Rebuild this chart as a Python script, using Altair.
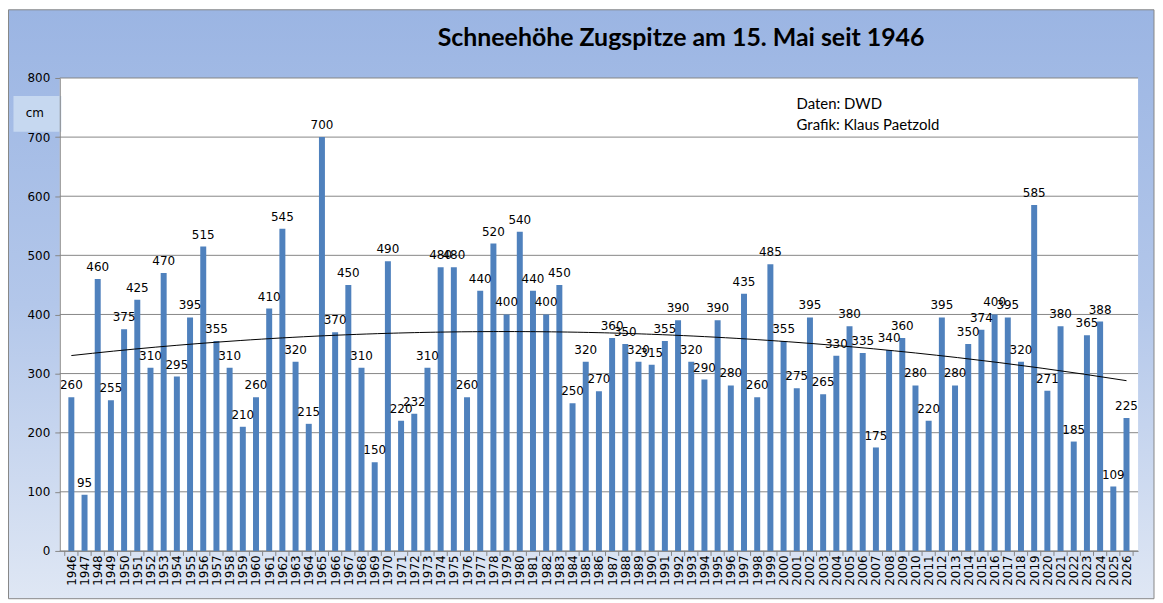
import altair as alt
import pandas as pd

years = list(range(1946, 2027))
values = [260, 95, 460, 255, 375, 425, 310, 470, 295, 395,
          515, 355, 310, 210, 260, 410, 545, 320, 215, 700,
          370, 450, 310, 150, 490, 220, 232, 310, 480, 480,
          260, 440, 520, 400, 540, 440, 400, 450, 250, 320,
          270, 360, 350, 320, 315, 355, 390, 320, 290, 390,
          280, 435, 260, 485, 355, 275, 395, 265, 330, 380,
          335, 175, 340, 360, 280, 220, 395, 280, 350, 374,
          400, 395, 320, 585, 271, 380, 185, 365, 388, 109, 225]
y_ticks = [0, 100, 200, 300, 400, 500, 600, 700, 800]
title_text = "Schneehöhe Zugspitze am 15. Mai seit 1946"
credit_lines = ["Daten: DWD", "Grafik: Klaus Paetzold"]
unit_label = "cm"

df = pd.DataFrame({"year": years, "value": values})
tick_df = pd.DataFrame({"year": years + [2027]})
grid_df = pd.DataFrame({"value": y_ticks})
one = pd.DataFrame({"a": [0]})

W, H = 1083, 475
NUM_FONT = "DejaVu Sans"
GRAY = "#868686"

xscale = alt.Scale(domain=[1945.5, 2026.5], nice=False, zero=False)
yscale = alt.Scale(domain=[0, 800], nice=False)

xaxis = alt.Axis(values=years, format="d", labelAngle=270, ticks=False,
                 grid=False, domainColor=GRAY, labelFont=NUM_FONT,
                 labelFontSize=12, labelColor="black", labelPadding=4,
                 labelAlign="right", labelBaseline="middle", title=None,
                 labelOverlap=False, labelFlush=False, zindex=1)
yaxis = alt.Axis(values=y_ticks, grid=False, domainColor=GRAY, tickColor=GRAY,
                 tickSize=5, labelFont=NUM_FONT, labelFontSize=12,
                 labelColor="black", labelPadding=5, title=None, zindex=1)

X = alt.X("year:Q", scale=xscale, axis=xaxis)
Y = alt.Y("value:Q", scale=yscale, axis=yaxis)

bg = alt.Chart(one).mark_rect(
    fill=alt.LinearGradient(
        gradient="linear",
        stops=[alt.GradientStop(color="#9bb5e3", offset=0),
               alt.GradientStop(color="#b3c7ea", offset=0.5),
               alt.GradientStop(color="#dfe7f4", offset=1)],
        x1=0, x2=0, y1=0, y2=1),
    stroke=GRAY, strokeWidth=1
).encode(x=alt.value(-51.5), x2=alt.value(W + 16), y=alt.value(-68.5), y2=alt.value(H + 48))

plot_bg = alt.Chart(one).mark_rect(fill="white").encode(
    x=alt.value(0), x2=alt.value(W), y=alt.value(0), y2=alt.value(H))

grid = alt.Chart(grid_df).mark_rule(color=GRAY, strokeWidth=1).encode(
    y=Y, x=alt.value(0), x2=alt.value(W))

bars = alt.Chart(df).mark_bar(color="#4f81bd", size=6).encode(x=X, y=Y)

labels = alt.Chart(df).mark_text(font=NUM_FONT, fontSize=12, color="black",
                                 baseline="bottom", dy=-5).encode(
    x=X, y=Y, text=alt.Text("value:Q"))

trend = alt.Chart(df).mark_line(color="black", strokeWidth=1).transform_regression(
    "year", "value", method="poly", order=2, extent=[1946, 2026]
).encode(x=X, y=Y)

xticks = alt.Chart(tick_df).transform_calculate(year="datum.year - 0.5").mark_rule(
    color=GRAY, strokeWidth=1).encode(
    x=X, y=alt.value(H), y2=alt.value(H + 5))

cm_box = alt.Chart(one).mark_rect(fill="#c6d8f0").encode(
    x=alt.value(-46.5), x2=alt.value(1.5), y=alt.value(18), y2=alt.value(54))
cm_text = alt.Chart(one).mark_text(text=unit_label, font=NUM_FONT, fontSize=12,
                                   color="black").encode(
    x=alt.value(-25), y=alt.value(35))

title = alt.Chart(one).mark_text(text=title_text, font="Lato", fontWeight="bold",
                                 fontSize=25, color="black").encode(
    x=alt.value(624), y=alt.value(-40))

credit1 = alt.Chart(one).mark_text(text=credit_lines[0], font="Lato", fontSize=15,
                                   color="black", align="left").encode(
    x=alt.value(740), y=alt.value(26))
credit2 = alt.Chart(one).mark_text(text=credit_lines[1], font="Lato", fontSize=15,
                                   color="black", align="left").encode(
    x=alt.value(740), y=alt.value(47))

chart = alt.layer(bg, plot_bg, grid, bars, labels, trend, xticks, cm_box, cm_text,
                  title, credit1, credit2).properties(
    width=W, height=H, padding=0, background="white"
).configure_view(stroke=None).configure_axis(labelOverlap=False)

chart.save("out.html", embed_options={"renderer": "svg", "actions": False})
